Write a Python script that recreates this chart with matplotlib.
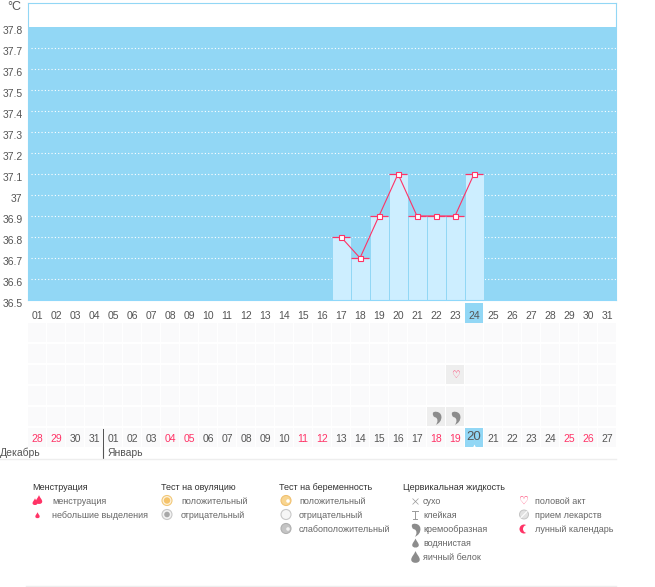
import matplotlib
matplotlib.use("Agg")
import matplotlib.pyplot as plt
from matplotlib.path import Path
from matplotlib.patches import Rectangle, Circle
from matplotlib.transforms import ScaledTranslation

plt.rcParams['font.family'] = ['Liberation Sans', 'DejaVu Sans']
plt.rcParams['font.size'] = 7

# chart data
days = [17, 18, 19, 20, 21, 22, 23, 24]
temps = [36.8, 36.7, 36.9, 37.1, 36.9, 36.9, 36.9, 37.1]
y_ticks = [36.5, 36.6, 36.7, 36.8, 36.9, 37, 37.1, 37.2, 37.3, 37.4, 37.5, 37.6, 37.7, 37.8]
y_labels = ['36.5', '36.6', '36.7', '36.8', '36.9', '37', '37.1', '37.2', '37.3', '37.4', '37.5', '37.6', '37.7', '37.8']
cycle_days = list(range(1, 32))
date_labels = ['28', '29', '30', '31', '01', '02', '03', '04', '05', '06', '07', '08', '09', '10', '11', '12',
               '13', '14', '15', '16', '17', '18', '19', '20', '21', '22', '23', '24', '25', '26', '27']
red_dates = ['28', '29', '04', '05', '11', '12', '18', '19', '25', '26']
heart_day = 23
creamy_days = [22, 23]
today_date = 24  # position of "20" in the bottom row

SKY = '#92d7f5'
BAR = '#cdeeff'
PINK = '#ff3366'
TXT = '#555555'
W, H = 655, 587

fig = plt.figure(figsize=(W / 100, H / 100), dpi=100, facecolor='white')

def px_axes(x0, y0, x1, y1, **kw):
    return fig.add_axes([x0 / W, 1 - y1 / H, (x1 - x0) / W, (y1 - y0) / H], **kw)

def day_lim():
    return 1 - 9 / 19, 1 + (616 - 37) / 19

# overlay in pixels for everything that is not data
ov = fig.add_axes([0, 0, 1, 1], zorder=0)
ov.set_xlim(0, W)
ov.set_ylim(H, 0)
ov.axis('off')

# main chart
ax = px_axes(28, 3, 616, 300, zorder=2)
ax.set_xlim(*day_lim())
ax.set_ylim(36.5, 37.8 + 24 / 210)
ax.axhspan(36.5, 37.8, color=SKY, lw=0, zorder=0)
x_grid = (31 - 37) / 19 + 1
ax.hlines(y_ticks[1:-1], x_grid, day_lim()[1], colors='white', lw=0.8, linestyles=(0, (1, 2)), zorder=1)
ax.bar(days, [t - 36.5 for t in temps], bottom=36.5, width=1, color=BAR, edgecolor=SKY, lw=0.7, zorder=2)
ax.hlines(temps, [d - 9 / 19 for d in days], [d + 9 / 19 for d in days], colors=PINK, lw=0.9, zorder=3)
ax.plot(days, temps, color=PINK, lw=0.8, zorder=4, marker='s', ms=3.6, mfc='white', mec=PINK, mew=0.8)

for side in ['top', 'left', 'right']:
    ax.spines[side].set_color(SKY)
    ax.spines[side].set_linewidth(0.8)
ax.spines['bottom'].set_color('#8fd8fa')
ax.spines['bottom'].set_linestyle((0, (2, 1)))
ax.spines['bottom'].set_linewidth(0.8)

ax.set_yticks(y_ticks)
ax.set_yticklabels(y_labels)
ax.set_xticks(cycle_days)
ax.set_xticklabels(['%02d' % d for d in cycle_days])
ax.tick_params(length=0, colors=TXT, labelsize=7.5)
ax.tick_params(axis='y', pad=4)
ax.tick_params(axis='x', pad=8)
for lbl in ax.get_yticklabels():
    lbl.set_transform(lbl.get_transform() + ScaledTranslation(0, -3 / 100, fig.dpi_scale_trans))
ov.text(14, 7, '°C', ha='center', va='center', color=TXT, fontsize=9)

# highlighted day under the chart
ov.add_patch(Rectangle((465, 303), 18, 20, color=SKY, lw=0))

# lower grid, rows of cells under the chart
grid = px_axes(28, 323, 616, 449, zorder=1)
grid.set_xlim(*day_lim())
grid.set_ylim(6, 0)
grid.axis('off')
cell_h = 19 / 21
for row in range(6):
    for d in cycle_days:
        col = '#fafafb'
        if (row == 2 and d == heart_day) or (row == 4 and d in creamy_days):
            col = '#eeeeee'
        if row == 5 and d == today_date:
            col = SKY
        grid.add_patch(Rectangle((d - 9 / 19, row + 0.02), 18 / 19, cell_h, color=col, lw=0))

# comma shaped marker for the creamy mark
comma = Path([(-0.6, 0.7), (-0.6, 1.1), (0.7, 1.1), (0.8, 0.2), (0.9, -0.5), (0.4, -1.0), (-0.1, -1.2),
              (0.3, -0.7), (0.2, -0.2), (-0.1, 0.0), (-0.6, 0.1), (-0.6, 0.4), (-0.6, 0.7)],
             [1, 4, 4, 4, 4, 4, 4, 4, 4, 4, 4, 4, 4])
drop = Path([(0, 1.2), (0.3, 0.5), (0.8, 0.1), (0.8, -0.4), (0.8, -1.2), (-0.8, -1.2), (-0.8, -0.4),
             (-0.8, 0.1), (-0.3, 0.5), (0, 1.2)],
            [1, 4, 4, 4, 4, 4, 4, 4, 4, 4])

grid.text(heart_day, 2.48, '♡', color=PINK, ha='center', va='center', fontsize=7, family='DejaVu Sans')
grid.scatter(creamy_days, [4.48] * len(creamy_days), marker=comma, s=110, color='#8c8c8c', lw=0)

for d, lab in zip(cycle_days, date_labels):
    big = d == today_date
    grid.text(d, 5.5 - (0.08 if big else 0), lab, ha='center', va='center',
              color=PINK if lab in red_dates and not big else TXT, fontsize=9.5 if big else 7.5)
grid.scatter([today_date], [5.88], marker='^', s=8, color='white', lw=0)

# month labels
ov.plot([103, 103], [429, 458], color='#555555', lw=0.8)
ov.text(0, 453, 'Декабрь', va='center', color=TXT, fontsize=7.5)
ov.text(108, 453, 'Январь', va='center', color=TXT, fontsize=7.5)
ov.plot([0, 616], [458.5, 458.5], color='#eeeeee', lw=1)
ov.plot([26, 616], [586, 586], color='#eeeeee', lw=1)

# legend
headers = [(32, 'Менструация'), (161, 'Тест на овуляцию'), (279, 'Тест на беременность'), (403, 'Цервикальная жидкость')]
for x, t in headers:
    ov.text(x, 487, t, va='center', color='#333333', fontsize=6.5)

rows = [501, 515, 529, 543, 557]
entries = [
    (52, ['менструация', 'небольшие выделения']),
    (181, ['положительный', 'отрицательный']),
    (299, ['положительный', 'отрицательный', 'слабоположительный']),
    (423, ['сухо', 'клейкая', 'кремообразная', 'водянистая', 'яичный белок']),
    (535, ['половой акт', 'прием лекарств', 'лунный календарь']),
]
for x, names in entries:
    for y, t in zip(rows, names):
        ov.text(x, y, t, va='center', color='#666666', fontsize=6.5)

# legend icons
ov.scatter([35, 39], [502, 500], marker=drop, s=[28, 48], color=PINK, lw=0)
ov.scatter([37], [515], marker=drop, s=22, color=PINK, lw=0)
ov.add_patch(Circle((167, 500.5), 5, fc='#fdf3df', ec='#f2c878', lw=0.8))
ov.add_patch(Circle((167, 500.5), 3.2, fc='#f5c36a', lw=0))
ov.add_patch(Circle((167, 514.5), 5, fc='#f3f3f3', ec='#c8c8c8', lw=0.8))
ov.add_patch(Circle((167, 514.5), 2.8, fc='#a8a8a8', lw=0))
ov.add_patch(Circle((286, 500.5), 5, fc='#f8d590', ec='#f0c070', lw=0.8))
ov.add_patch(Circle((288, 501), 1.8, fc='#ffffff', lw=0))
ov.add_patch(Circle((286, 514.5), 5, fc='#f6f6f6', ec='#c8c8c8', lw=0.8))
ov.add_patch(Circle((286, 528.5), 5, fc='#c4c4c4', ec='#b0b0b0', lw=0.8))
ov.add_patch(Circle((288, 529), 1.8, fc='#f2f2f2', lw=0))

ov.scatter([415], [501], marker='x', s=18, color='#999999', lw=0.5)
ov.plot([412, 418], [511, 511], color='#999999', lw=0.7)
ov.plot([415, 415], [511, 519], color='#999999', lw=0.7)
ov.plot([413, 417], [519, 519], color='#999999', lw=0.7)
ov.scatter([415], [529], marker=comma, s=110, color='#8c8c8c', lw=0)
ov.scatter([415], [543], marker=drop, s=50, color='#8c8c8c', lw=0)
ov.scatter([415], [557], marker=drop, s=85, color='#8c8c8c', lw=0)

ov.text(524, 501, '♡', color=PINK, ha='center', va='center', fontsize=8, family='DejaVu Sans')
ov.add_patch(Circle((524, 514.5), 4.5, fc='#e2e2e2', ec='#c4c4c4', lw=0.7))
ov.plot([521, 527], [517.5, 511.5], color='white', lw=0.8)
ov.add_patch(Circle((524, 529), 4.5, fc=PINK, lw=0))
ov.add_patch(Circle((527, 529), 4, fc='white', lw=0))

fig.savefig('out.png', dpi=100, facecolor='white')
